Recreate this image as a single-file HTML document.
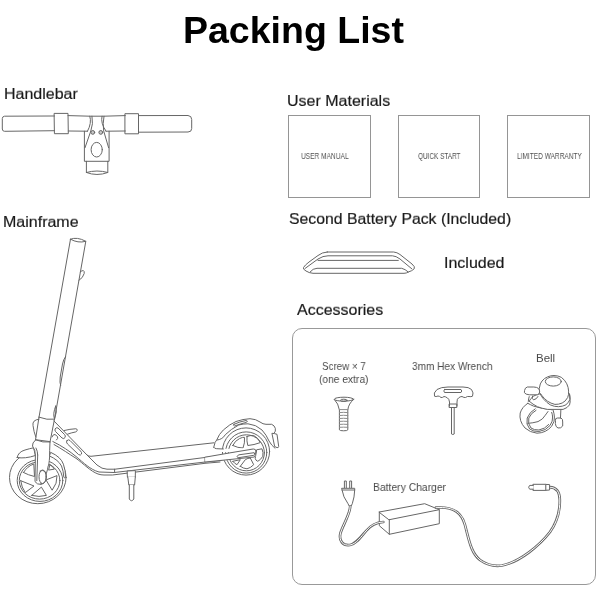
<!DOCTYPE html>
<html><head><meta charset="utf-8">
<style>
html,body{margin:0;padding:0;background:#fff;}
body{width:600px;height:600px;position:relative;overflow:hidden;-webkit-font-smoothing:antialiased;font-family:"Liberation Sans",sans-serif;}
.t{position:absolute;will-change:transform;white-space:nowrap;line-height:1;color:#1a1a1a;}
.h{font-size:16px;transform:scaleY(0.92);transform-origin:0 0;-webkit-text-stroke:0.2px #1a1a1a;}
.box{position:absolute;border:1px solid #959595;box-sizing:border-box;}
.bt{position:absolute;will-change:transform;font-size:8.7px;color:#505050;white-space:nowrap;line-height:1;transform-origin:0 0;}
.al{position:absolute;will-change:transform;font-size:11.5px;color:#4a4a4a;white-space:nowrap;line-height:1;transform-origin:0 0;}
svg{position:absolute;left:0;top:0;}
</style></head><body>
<div class="t" id="title" style="left:183px;top:12.3px;font-size:37.5px;font-weight:bold;color:#000;">Packing List</div>
<div class="t h" id="hb" style="left:4px;top:86.5px;">Handlebar</div>
<div class="t h" id="mf" style="left:3px;top:214.5px;">Mainframe</div>
<div class="t h" id="um" style="left:287px;top:93.5px;">User Materials</div>
<div class="t h" id="sb" style="left:289px;top:212px;font-size:15.8px;">Second Battery Pack (Included)</div>
<div class="t h" id="inc" style="left:443.5px;top:256px;">Included</div>
<div class="t h" id="acc" style="left:297px;top:302.5px;">Accessories</div>

<div class="box" style="left:288px;top:115px;width:83px;height:83px;"></div>
<div class="box" style="left:398px;top:115px;width:82px;height:83px;"></div>
<div class="box" style="left:507px;top:115px;width:83px;height:83px;"></div>
<div class="bt" id="b1" style="left:301px;top:152px;transform:scaleX(0.758)">USER MANUAL</div>
<div class="bt" id="b2" style="left:418px;top:152px;transform:scaleX(0.736)">QUICK START</div>
<div class="bt" id="b3" style="left:517px;top:152px;transform:scaleX(0.753)">LIMITED WARRANTY</div>

<div style="position:absolute;left:292px;top:328px;width:304px;height:257px;border:1.2px solid #999;border-radius:10px;box-sizing:border-box;"></div>
<div class="al" id="a1" style="left:321.5px;top:361.3px;transform:scaleX(0.85)">Screw × 7</div>
<div class="al" id="a2" style="left:319px;top:373.5px;transform:scaleX(0.89)">(one extra)</div>
<div class="al" id="a3" style="left:412px;top:361.2px;transform:scaleX(0.876)">3mm Hex Wrench</div>
<div class="al" id="a4" style="left:536.3px;top:352.6px;">Bell</div>
<div class="al" id="a5" style="left:373px;top:481.8px;transform:scaleX(0.9)">Battery Charger</div>

<svg id="draw" width="600" height="600" viewBox="0 0 600 600" fill="none" stroke="#666" stroke-width="1" stroke-linejoin="round" stroke-linecap="round">
<g id="handlebar">
<path d="M54.5 116 L4.5 116.2 Q2.3 116.5 2.3 118.5 L2.3 129 Q2.3 131.2 4.5 131.3 L54.5 130.7"/>
<path d="M54.5 113.4 L68 113.4 L68.3 133.7 L54.8 133.7 Z"/>
<path d="M68 115.6 L89.8 116.2 L104 116.2 L125.3 115.6"/>
<path d="M68.3 131 L87.5 131.2"/>
<path d="M106 131.2 L125.3 131"/>
<path d="M89.8 116.2 Q92 123 87.5 131.2"/>
<path d="M92 116.2 Q93.5 124 90.8 131 L85 147.7"/>
<path d="M104 116.2 Q102.5 124 103.7 131 L108.6 147.7"/>
<path d="M102 116.2 Q100.3 123 106 131.2"/>
<path d="M84.4 131.2 L84.4 161.3 L109.1 161.3 L109.1 131.2"/>
<circle cx="92.8" cy="132.4" r="1.9" fill="#c8c8c8"/>
<circle cx="100.8" cy="132.4" r="1.9" fill="#c8c8c8"/>
<ellipse cx="96.7" cy="149.7" rx="5.6" ry="7.3"/>
<path d="M86.4 161.3 L86.4 172.5 M107.8 161.3 L107.8 172.5"/>
<path d="M86.4 172.5 Q97 169.5 107.8 172.5 Q97 176.5 86.4 172.5"/>
<path d="M125.3 113.7 L138.5 113.7 L138.5 133.8 L125.3 133.8 Z"/>
<path d="M138.5 115.6 L188 115.5 Q191.7 115.8 191.7 119.5 L191.7 128.5 Q191.7 132 188 132 L138.5 132.2"/>
</g>

<g id="scooter">
<!-- front wheel -->
<ellipse cx="37.8" cy="477.5" rx="28.3" ry="26.2"/>
<ellipse cx="40" cy="480.5" rx="22.8" ry="20.9"/>
<ellipse cx="39.6" cy="480.5" rx="20.3" ry="18.6"/>
<path d="M23.5 472.5 Q27.5 466 33.8 464 L34.5 476.5 Q28 475 23.5 472.5 Z"/>
<path d="M20.7 480.7 L34 486 L25.3 492.6 Q21.5 487.5 20.7 480.7 Z"/>
<path d="M31.7 495.4 L41.4 487.1 L46.4 495.4 Q39 497.5 31.7 495.4 Z"/>
<path d="M46.4 479.8 L57 475.6 Q57.5 483.5 52.4 489.9 Z"/>
<path d="M48.7 469.7 L49.8 464.8 Q52.5 466 54.2 468.8 Z"/>
<!-- front fender -->
<path fill="#fff" d="M17.2 457.5 Q18 452 25 450 Q30 448.5 33.6 447.8 L35.4 455.5 Q25 459 17.2 457.5 Z"/>
<path fill="#fff" d="M51 452.5 Q61 457 63.4 464.2 Q65.5 470 65.7 477.5 Q64.8 479 63.8 477 Q63.5 471 61.5 466 Q58.5 460 49.6 456 Z"/>
<!-- fork -->
<path fill="#fff" d="M35.5 440 Q32 443 32.5 446 Q35.5 450 35.4 455 L35 481.6 Q37 484.8 41.4 484.4 L46.4 473.3 Q47.5 470 48.2 466 Q49 465 49.6 457 Q49.5 452 50 442 Z"/>
<path d="M37.7 455 L36.8 480.7 M36 448 Q37.7 451 37.7 455"/>
<ellipse fill="#fff" cx="42.6" cy="476.8" rx="3.6" ry="6.8"/>
<path d="M40 471 Q46.5 468.5 46.4 477 Q45.8 484.5 40.5 484"/>
<!-- stem -->
<path d="M70.5 239.2 Q77 236.5 85.8 241.3 Q78 243.5 70.5 239.2 Z"/>
<path d="M70.5 239.2 L39 417.2"/>
<path d="M85.8 241.3 L54.5 419.2"/>
<path d="M80.2 271.8 Q84.8 268.5 84.2 273.5 Q83 278 79 280.3"/>
<path d="M65.4 357 Q63.5 359 62.5 364 L60.2 377 Q59.5 383 60.6 385.5"/>
<path d="M55.7 406 Q57.5 412 54.5 419 Q52.5 414 55.7 406"/>
<path d="M39 417.2 Q47 420.3 54.5 419.2"/>
<!-- head tube -->
<path d="M39 417.2 L35.5 439.8"/>
<path d="M54.5 419.2 L50 442"/>
<path d="M39 419.2 Q32 420 33 425.5 Q33.8 432 35.8 437"/>
<path d="M35.5 439.8 Q43 443 50 442"/>
<!-- neck -->
<path d="M54 421 L87 455 Q88.5 456.3 91 456.3 L214 442.8"/>
<path d="M87 455 Q92 460 97 465 Q102 469.2 107 469.2 L115 469.2 L220 455.5 L253 448.7 Q256.5 448.5 256.2 452"/>
<path d="M52.8 441.5 C62 446 70 451.5 76 456.5 C84 463 90 469.5 99 472 L114.2 472.5 L205.3 462 L222 460.4"/>
<path d="M54 444.5 C62 449 69 454 76 458.3 C84 464 90 471 98 474 Q101 475 104 475 L112.5 475 L205 463.3 L220 462"/>
<path d="M55.5 428.5 Q54 430 55.5 431.5 L62 438 Q64 439.5 65 437.5 Q66 436 64.5 434.5 L58 428 Q56.5 427 55.5 428.5 Z"/>
<path d="M67 440.5 Q65.5 442 67.5 444 L78.5 454.5 Q80.5 456 81.5 454 Q82 452.5 80.5 451 L70 440.5 Q68.5 439 67 440.5 Z"/>
<path d="M64.2 430.5 Q70 429 75.8 428.75 Q77.8 429 77.1 430.8 Q76.5 431.8 75.8 431.9 Q71 432.8 67.5 434.2"/>
<path d="M52 437 Q53 434 55 434.5 L57.5 436.5 Q58.5 438.5 56.5 440"/>
<path d="M114.6 469.2 L114.6 472.5"/>
<path d="M205 457.5 L205 462"/>
<!-- kickstand -->
<path fill="#fff" d="M127.5 471 L135.4 470.6 L135.3 477.3 L127.8 477.3 Z"/>
<path fill="#fff" d="M127.8 477 L128.8 485 L134.6 485 L135.3 477"/>
<path fill="#fff" d="M129.3 485 L129.3 499 Q131.5 502.5 133.8 499 L133.8 485"/>
<!-- rear wheel -->
<circle cx="246" cy="451.5" r="23.6"/>
<circle cx="246.2" cy="452.5" r="20.6"/>
<circle cx="246.4" cy="452.8" r="18"/>
<path d="M232.8 445.5 Q235 440.5 239.5 438.6 Q243 436.8 244.5 437.4 Q245 443 243 448 Q238 448 232.8 445.5 Z"/>
<path d="M247 436.5 Q250 435.2 253.7 435.5 Q258 437.5 260.3 442.6 Q254 445 247.8 445.5 Q246.5 441 247 436.5 Z"/>
<path d="M257 449.7 L262 448.8 Q263.5 452.5 262.8 456.3 Q260.5 460 257.8 461.3 Q255.5 460.5 255.3 458.8 Z"/>
<path d="M240.3 466.3 L245.3 459.7 Q248 458 250.3 458 L253.7 464.7 Q250.5 468 247 468.8 Q243 468.5 240.3 466.3 Z"/>
<path d="M232.8 461.3 L240.3 459.7 L237 464.7 Q234.5 463.5 232.8 461.3 Z"/>
<!-- rear fender -->
<path fill="#fff" stroke="none" d="M213.7 447.3 Q215 441 216.7 440 Q219 434 223.3 430 Q230 424 236 421.5 Q243 419 250 418.7 Q256 419 260 422 Q263 424.3 266 424.3 L271.7 424.3 Q274.5 425.5 275.3 428.3 Q276 431.5 274.3 433 L277 434.3 L278.7 447.7 L275 448.3 Q271.5 445.5 269 441 Q266.5 435 262 430 Q256 424.5 248 423.8 Q243 423.8 238.7 425 Q231 429 225.3 434.7 Q222.5 439.5 217.3 440 Q215.5 446 216.7 448.7 L223.3 449 L256 448 L256 452 L214 452 Z"/>
<path d="M213.7 447.3 Q215 441 216.7 440 Q219 434 223.3 430 Q230 424 236 421.5 Q243 419 250 418.7 Q256 419 260 422 Q263 424.3 266 424.3 L271.7 424.3 Q274.5 425.5 275.3 428.3 Q276 431.5 274.3 433"/>
<path d="M217.3 440 Q222.5 439.5 225.3 434.7 Q231 429 238.7 425 Q243 423.8 248 423.8 Q256 424.5 262 430 Q266.5 435 269 441 Q271.5 445.5 275 448.3"/>
<path d="M213.7 447.3 Q214.5 448.7 216.7 448.7 L223.3 449"/>
<path d="M234 424.3 Q240 421.5 246 420.5 Q248.5 421 246.5 422.3 Q240 424 234.5 426 Q232.5 425.5 234 424.3 Z"/>
<path fill="#fff" d="M272.3 433.3 Q275 433.5 277 434.3 L278.7 446.5 Q278.5 448 277 447.6 L275 446.7 Z"/>
<!-- rear arm fill -->
<path fill="#fff" stroke="none" d="M205 457 L235 452 L253.3 449 Q256 449 255.8 451 L255.4 456.8 L205.3 462 Z"/>
<path d="M205 457.2 L235 452 L253.3 449 Q256 449 255.8 451 Q256 454.5 254.5 457 L205.3 462"/>
<!-- rear arm slot -->
<path fill="#fff" d="M238 455.3 Q236 457 238 457.8 L253.8 455.3 Q255.5 454.5 254.2 452.7 L239 454.8 Z"/>
</g>

<g id="battery">
<path d="M327.2 252 L393.7 252 Q397 252.3 400 254.5 L412 264 Q415.5 267 414.2 268.8 Q412 271 408.3 272 Q406.5 273.3 404 273.3 L313 273.3 Q309 273 306 271 Q302.5 269 303.5 267.5 Q305 265 309 262 L318 255.5 Q322 252.3 327.2 252 Z"/>
<path d="M305 268.5 L318 259 Q323 255.8 328 255.8 L392.5 255.8 Q396 256 400 259 L411.7 268.75"/>
<path d="M318 260.4 L398.3 260.4"/>
<path d="M310 272 Q313 268.3 317 268.3 L401.7 268.3 Q405 269 408.3 272"/>
</g>
<g id="screw">
<ellipse cx="344" cy="399.2" rx="9.7" ry="2"/>
<ellipse cx="343.8" cy="400.3" rx="3.4" ry="1.1"/>
<path d="M334.3 399.4 Q338.5 403.5 339.4 410 L339.4 429.8 Q339.6 430.8 343.6 430.8 Q347.6 430.8 347.8 429.8 L347.8 410 Q348.5 403.5 353.7 399.4"/>
<path stroke="#8a8a8a" d="M339.4 409.6 L347.8 409.6 M339.4 412.6 Q343.6 412 347.8 412.6 M339.4 415.5 Q343.6 415 347.8 415.5 M339.4 418.5 Q343.6 418 347.8 418.5 M339.4 421.4 Q343.6 421 347.8 421.4 M339.4 424.4 Q343.6 424 347.8 424.4 M339.4 427.3 Q343.6 427 347.8 427.3"/>
</g>
<g id="wrench">
<path d="M449.5 406 L449.5 402 Q449 398.5 447.5 398 Q445.5 396.5 444 396.5 Q442.5 397.8 441 397.5 Q439.5 396 438 396 Q436 397 434.5 396.2 Q433 393 437 389.5 Q441 387 448 387 L463 387 Q469 387 471.5 389.5 Q474 393 472.5 396.2 Q471 397 469 396.5 Q467.5 396 465.5 397.5 Q464 397.8 462 396.5 Q460 396.5 458.5 398 Q457 398.5 457 402 L457 406"/>
<path d="M444.5 389.5 L461 389.5 Q462.5 391 461 392.5 L444.5 392.5 Q443 391 444.5 389.5 Z"/>
<path d="M449.5 404 L456.8 404 L456.8 407.5 L449.5 407.5 Z"/>
<path d="M451.5 407.5 L451.5 434 Q452.8 435 454.2 434 L454.2 407.5"/>
</g>
<g id="bell">
<path d="M527.8 403.3 Q522 407 520.2 413 Q518.8 421 525 428 Q530 432.5 537 433.2 Q546 433 551.7 426.2 Q555 421 554.4 417 Q554.2 413.5 553.5 411.5"/>
<path d="M535.2 408.8 Q529.5 412 527.2 418 Q525.6 424.5 529.7 429 Q533.5 431.8 538.9 431.5 Q546 430.5 550 425.5 Q553 421 552.6 417 Q552.4 414 551.7 412.4"/>
<path d="M536 410.3 Q531 413 528.8 418 Q527.5 424 531 428 Q534 430.2 538.9 430 Q545 429 548.7 424.5"/>
<path d="M527.8 423.4 Q533 423 538 421.6 Q543 419.5 545.3 415.2 Q547 413 548 411.5"/>
<path d="M527.8 403.3 Q531 405 533.3 406 Q538 407.5 542.5 408.3 L551.7 409.7"/>
<path d="M552.6 408.8 L553.5 411.5 M560.9 409 L560.5 418"/>
<path d="M555.4 420 Q555 418 557.5 418 L561 418 Q563 419 562.7 422 L562.7 426 Q561 428.5 558 428 Q555.5 427 555.4 424 Z"/>
<path fill="#fff" d="M529.2 401.2 Q533 404.5 537.4 406.7 Q542 408.5 547.5 409.4 L563.1 409.4 Q567.5 408 569.5 404.9 Q570.5 402 570 399.4 L569.5 393.9 L540 393.9 Q532 395 529.2 401.2 Z"/>
<path fill="#fff" d="M539.3 388.3 Q540 383 542 381 Q544.5 378 547.5 376.9 Q550.5 375.5 554 375.5 Q558 375.6 561.3 377.3 Q565 380 566.8 383.8 Q568.5 387.5 568.6 391.1 Q568.8 395 567.7 397.5 Q565.5 401.5 562.2 403 Q558.5 404.6 554.9 404.4 Q551 403.5 547.5 401.2 Q544 398.5 542 395.7 Q540.3 393 539.7 392.9 Z"/>
<path d="M540.2 393.9 Q541.5 397 543.9 399.4 Q546.5 402.5 550.3 404.9 Q554.5 406.8 558.5 406.7 Q562.5 406.5 565.9 404.9 Q568.5 402.5 570 399.4 Q570.2 396.5 569.5 393.9"/>
<ellipse cx="553.3" cy="381.5" rx="8" ry="4.6"/>
<path fill="#fff" d="M524.6 390.2 Q525 387.5 527.3 387 L533.8 387 Q537 387.2 538.3 388.3 Q539.7 390 539.7 392 Q539 394.5 537.4 394.8 L529.2 394.8 Q525.5 394.5 524.6 393 Z"/>
<path d="M529.2 396.6 Q528.5 399 528.3 401.2 M532.5 396 Q531.5 399 533.5 399.8 Q536.5 399.5 538 396.5"/>
</g>
<g id="charger" >
<path d="M344.4 487.7 L344.4 481 L346.3 481 L346.3 487.7 M349.7 487.7 L349.7 481 L351.6 481 L351.6 487.7"/>
<path fill="#fff" d="M342 488.3 L354.7 488.3 L354.7 490 Q354.5 497 352.3 503.7 L351 506.3 L349.3 506.3 L348 503.7 Q343 497 342 490 Z"/>
<path d="M342 490 L354.7 490"/>
<path d="M379.3 512 L424.7 503.7 L439.3 509.7 L389.3 519.7 Z M379.3 512 L379.3 525.7 L389.3 534.3 L439.3 523.7 L439.3 509.7 M389.3 519.7 L389.3 534.3"/>
</g>
<g id="cables" stroke="#666" stroke-width="2.7" fill="none">
<path d="M350.2 506.5 C350 514 343 525 340.5 533 C338.5 541 343 546 350 545 C356 544 361 537 366 531 C371 525 376 522.5 383.3 522"/>
<path d="M436 507.7 C455 506 462 514 465 525 C469 540 471 553 480 560 C487 565 495 566.5 502 565.5 C520 562 540 545 550 532 C557 522 560 512 559.8 500 C559.7 492 557 487.5 549.6 487.2"/>
</g>
<g stroke="#fff" stroke-width="1" fill="none">
<path d="M350.2 506.5 C350 514 343 525 340.5 533 C338.5 541 343 546 350 545 C356 544 361 537 366 531 C371 525 376 522.5 383.3 522"/>
<path d="M436 507.7 C455 506 462 514 465 525 C469 540 471 553 480 560 C487 565 495 566.5 502 565.5 C520 562 540 545 550 532 C557 522 560 512 559.8 500 C559.7 492 557 487.5 549.6 487.2"/>
</g>
<g id="dcplug">
<path fill="#fff" d="M545.8 484.4 L549.6 484.6 L549.6 490 L545.8 490.3 Z"/>
<path fill="#fff" d="M533.3 484.3 L545.8 484.3 L545.8 490.4 L533.3 490.4 Z"/>
<path fill="#fff" d="M533.3 485.4 L530 485.4 Q528.7 486 528.7 487.3 Q528.7 488.7 530 489.2 L533.3 489.2"/>
</g>
</svg>
</body></html>
